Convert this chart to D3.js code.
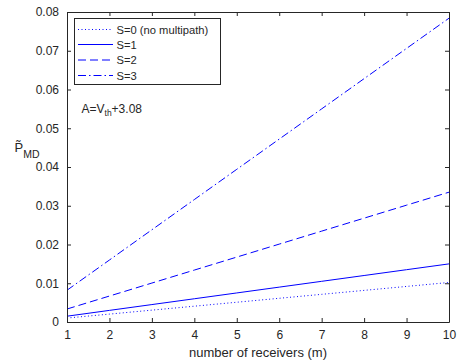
<!DOCTYPE html>
<html><head><meta charset="utf-8">
<script src="https://cdn.jsdelivr.net/npm/d3@7"></script>
<style>body{margin:0;background:#fff}svg{display:block}text{font-family:"Liberation Sans",Arial,sans-serif;fill:#262626}</style>
</head><body><svg id="c" width="463" height="363"></svg>
<script>
const receivers = [1,2,3,4,5,6,7,8,9,10];
const s0 = [0.00102,0.00204,0.00306,0.00408,0.0051,0.00612,0.00714,0.00816,0.00918,0.0102];
const s1 = [0.0015,0.0030,0.0045,0.0060,0.0075,0.0090,0.0105,0.0120,0.0135,0.0150];
const s2 = [0.00335,0.0067,0.01005,0.0134,0.01675,0.0201,0.02345,0.0268,0.03015,0.0335];
const s3 = [0.0082,0.0160,0.0238,0.0316,0.0394,0.0472,0.0550,0.0628,0.0706,0.0784];
const seriesNames = ["S=0 (no multipath)","S=1","S=2","S=3"];
const xTicks = [1,2,3,4,5,6,7,8,9,10];
const yTicks = [0,0.01,0.02,0.03,0.04,0.05,0.06,0.07,0.08];

const svg = d3.select("#c");
const L=67,R=449,T=12,B=322;
const x = d3.scaleLinear().domain([1,10]).range([L,R]);
const y = d3.scaleLinear().domain([0,0.08]).range([B,T]);
const axCol="#262626", fs="12px";

const series=[s0,s1,s2,s3];
const dashes=["1,2.5",null,"8,4","8,3,1.5,3"];
const col="#0000ff";
const line=d3.line().x((d,i)=>x(receivers[i])).y(d=>y(d));
series.forEach((s,k)=>{
  svg.append("path").datum(s).attr("d",line).attr("fill","none")
    .attr("stroke",col).attr("stroke-width",1).attr("stroke-dasharray",dashes[k]);
});

function styleAx(g){g.select(".domain").attr("stroke",axCol);g.selectAll(".tick line").attr("stroke",axCol);g.selectAll("text").attr("font-size",fs).attr("fill",axCol).style("font-family","Liberation Sans, Arial, sans-serif");}
svg.append("g").attr("transform",`translate(0,${B})`).call(d3.axisBottom(x).tickValues(xTicks).tickSize(-4).tickPadding(8).tickSizeOuter(0)).call(styleAx);
svg.append("g").attr("transform",`translate(0,${T})`).call(d3.axisTop(x).tickValues(xTicks).tickSize(-4).tickFormat("").tickSizeOuter(0)).call(styleAx);
svg.append("g").attr("transform",`translate(${L},0)`).call(d3.axisLeft(y).tickValues(yTicks).tickSize(-4).tickPadding(8).tickFormat(d=>d===0?"0":d3.format(".2f")(d)).tickSizeOuter(0)).call(styleAx);
svg.append("g").attr("transform",`translate(${R},0)`).call(d3.axisRight(y).tickValues(yTicks).tickSize(-4).tickFormat("").tickSizeOuter(0)).call(styleAx);

// legend
const lg=svg.append("g");
lg.append("rect").attr("x",74.5).attr("y",18.5).attr("width",146).attr("height",66).attr("fill","#fff").attr("stroke",axCol).attr("stroke-width",1);
const ly=[29.5,44.5,60,75.5];
seriesNames.forEach((n,k)=>{
  lg.append("line").attr("x1",78).attr("x2",113).attr("y1",ly[k]).attr("y2",ly[k]).attr("stroke",col).attr("stroke-width",1).attr("stroke-dasharray",dashes[k]);
  lg.append("text").attr("x",116.5).attr("y",ly[k]+4).attr("font-size","11.2px").text(n);
});

// annotation
const ann=svg.append("text").attr("x",81.5).attr("y",112.5).attr("font-size","12px");
ann.append("tspan").text("A=V");
ann.append("tspan").attr("dy",3.5).attr("font-size","8.5px").text("th");
ann.append("tspan").attr("dy",-3.5).text("+3.08");

// y label: P with combining tilde, subscript MD
const yl=svg.append("text").attr("x",14.5).attr("y",152).attr("font-size","13px");
yl.append("tspan").text("P\u0303");
yl.append("tspan").attr("dy",6).attr("font-size","10.5px").text("MD");

// x label
svg.append("text").attr("x",258).attr("y",356.5).attr("text-anchor","middle").attr("font-size","13px").text("number of receivers (m)");
</script></body></html>
